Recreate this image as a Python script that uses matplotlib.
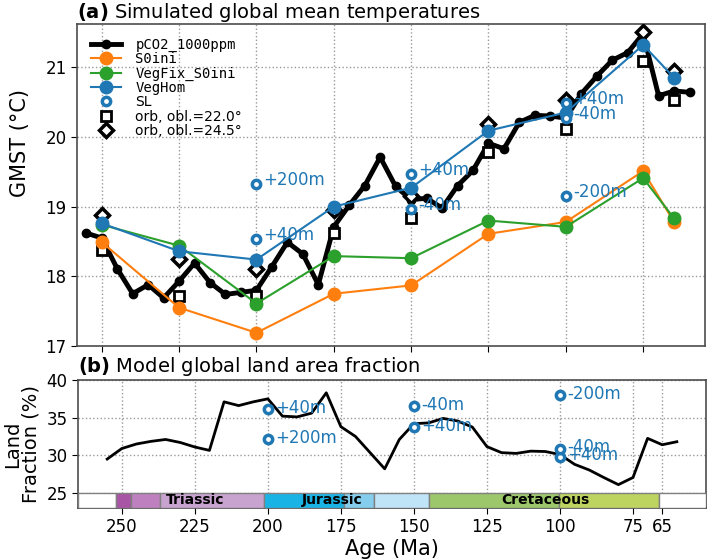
import matplotlib
matplotlib.use("Agg")
import matplotlib.pyplot as plt
from matplotlib.lines import Line2D

# reference run pCO2_1000ppm, one simulation every 5 Ma
age_ref = [255, 250, 245, 240, 235, 230, 225, 220, 215, 210,
           205, 200, 195, 190, 185, 180, 175, 170, 165, 160,
           155, 150, 145, 140, 135, 130, 125, 120, 115, 110,
           105, 100, 95, 90, 85, 80, 75, 70, 65, 60]
gmst_ref = [18.62, 18.55, 18.11, 17.75, 17.88, 17.69, 17.93, 18.19, 17.91, 17.74,
            17.77, 17.80, 18.14, 18.49, 18.32, 17.88, 18.71, 19.02, 19.30, 19.71,
            19.29, 19.10, 19.12, 18.98, 19.30, 19.52, 19.91, 19.83, 20.21, 20.31,
            20.30, 20.27, 20.62, 20.87, 21.10, 21.21, 21.48, 20.59, 20.66, 20.64]
land_ref = [29.5, 30.9, 31.5, 31.85, 32.1, 31.7, 31.1, 30.65, 37.1, 36.6,
            37.1, 37.5, 35.2, 35.1, 35.6, 38.3, 33.8, 32.5, 30.35, 28.2,
            32.1, 34.2, 34.3, 34.9, 34.55, 33.75, 31.15, 30.35, 30.25, 30.55,
            30.5, 30.1, 28.8, 28.05, 27.05, 26.1, 27.05, 32.25, 31.4, 31.8]

# sensitivity runs
age_sens = [250, 225, 200, 175, 150, 125, 100, 75, 65]
gmst_s0ini = [18.49, 17.55, 17.19, 17.75, 17.87, 18.61, 18.78, 19.51, 18.78]
gmst_vegfix = [18.74, 18.44, 17.61, 18.29, 18.26, 18.80, 18.71, 19.41, 18.83]
gmst_veghom = [18.76, 18.36, 18.24, 19.00, 19.27, 20.09, 20.35, 21.32, 20.85]
gmst_obl22 = [18.38, 17.72, 17.72, 18.62, 18.83, 19.79, 20.12, 21.09, 20.53]
gmst_obl245 = [18.88, 18.25, 18.10, 18.95, 19.15, 20.19, 20.53, 21.51, 20.95]

# sea level runs
sl_age = [200, 200, 150, 150, 100, 100, 100]
sl_name = ["+200m", "+40m", "+40m", "-40m", "+40m", "-40m", "-200m"]
sl_gmst = [19.32, 18.53, 19.47, 18.96, 20.48, 20.27, 19.15]
sl_land = [32.1, 36.1, 33.7, 36.55, 29.8, 30.9, 38.0]

# geological time scale bar
gts_start = [265, 252.0, 247.0, 237.0, 201.3, 174.1, 163.5, 145.0, 100.5, 66.0]
gts_end = [252.0, 247.0, 237.0, 201.3, 174.1, 163.5, 145.0, 100.5, 66.0, 50]
gts_color = ["white", "#a855a6", "#bf80bf", "#c8a3cf", "#1ab3e6",
             "#84cdec", "#bfe4f8", "#9cc86b", "#bdd460", "white"]
period_name = ["Triassic", "Jurassic", "Cretaceous"]
period_pos = [225, 178, 105]

blue = "#1f77b4"
orange = "#ff7f0e"
green = "#2ca02c"

plt.rcParams["font.family"] = "DejaVu Sans"
fig = plt.figure(figsize=(7.09, 5.6), dpi=100)
ax1 = fig.add_axes([0.1086, 0.3821, 0.8858, 0.575])
ax2 = fig.add_axes([0.110, 0.0929, 0.8858, 0.2285])

#---- (a) temperatures ----
ax1.plot(age_sens, gmst_obl22, "s", ms=7, mfc="white", mec="k", mew=2, zorder=3)
ax1.plot(age_sens, gmst_obl245, "D", ms=7, mfc="white", mec="k", mew=2.5, zorder=3)
ax1.plot(age_ref, gmst_ref, "o-", color="k", lw=3.5, ms=6, zorder=2)
ax1.plot(age_sens, gmst_s0ini, "o-", color=orange, lw=1.5, ms=9, zorder=4)
ax1.plot(age_sens, gmst_vegfix, "o-", color=green, lw=1.5, ms=9, zorder=4)
ax1.plot(age_sens, gmst_veghom, "o-", color=blue, lw=1.5, ms=9, zorder=4)
ax1.plot(sl_age, sl_gmst, "o", ms=6, mfc="white", mec=blue, mew=2.5, zorder=5)
for a, t, s in zip(sl_age, sl_gmst, sl_name):
    ax1.annotate(s, (a, t), xytext=(5, 3), textcoords="offset points",
                 ha="left", va="center", color=blue, fontsize=12, zorder=6)

ax1.set_xlim(258, 55)
ax1.set_ylim(17, 21.62)
ax1.set_xticks([250, 225, 200, 175, 150, 125, 100, 75])
ax1.set_xticklabels([])
ax1.set_yticks([17, 18, 19, 20, 21])
ax1.set_ylabel("GMST (\u00b0C)", fontsize=15)
ax1.yaxis.set_label_coords(-0.075, 0.63)
ax1.set_title(r"$\bf{(a)}$ Simulated global mean temperatures", loc="left",
              fontsize=14, pad=4)

handles = [
    Line2D([], [], color="k", lw=3.5, marker="o", ms=6),
    Line2D([], [], color=orange, lw=1.5, marker="o", ms=9),
    Line2D([], [], color=green, lw=1.5, marker="o", ms=9),
    Line2D([], [], color=blue, lw=1.5, marker="o", ms=9),
    Line2D([], [], ls="", marker="o", ms=6, mfc="white", mec=blue, mew=2.5),
    Line2D([], [], ls="", marker="s", ms=7, mfc="white", mec="k", mew=2),
    Line2D([], [], ls="", marker="D", ms=7, mfc="white", mec="k", mew=2.5),
]
labels = ["pCO2_1000ppm", "S0ini", "VegFix_S0ini", "VegHom", "SL",
          "orb, obl.=22.0\u00b0", "orb, obl.=24.5\u00b0"]
leg = ax1.legend(handles, labels, loc="upper left", frameon=False, fontsize=10,
                 labelspacing=0.02, handlelength=2.2, handletextpad=1.0,
                 borderaxespad=0.5, borderpad=0.5)
for t in leg.get_texts()[:4]:
    t.set_family("DejaVu Sans Mono")

#---- (b) land fraction ----
ax2.plot(age_ref, land_ref, color="k", lw=2, zorder=3)
ax2.plot(sl_age, sl_land, "o", ms=6, mfc="white", mec=blue, mew=2.5, zorder=5)
for a, f, s in zip(sl_age, sl_land, sl_name):
    ax2.annotate(s, (a, f), xytext=(5, 1), textcoords="offset points",
                 ha="left", va="center", color=blue, fontsize=12, zorder=6)

for s, e, c in zip(gts_start, gts_end, gts_color):
    ax2.barh(24, e - s, left=s, height=2, color=c, edgecolor="0.5", lw=1, zorder=4)
for n, p in zip(period_name, period_pos):
    ax2.text(p, 24, n, ha="center", va="center", fontsize=10, fontweight="bold",
             zorder=5)

ax2.set_xlim(265, 50)
ax2.set_ylim(23, 40)
ax2.set_xticks([250, 225, 200, 175, 150, 125, 100, 75, 65])
ax2.set_yticks([25, 30, 35, 40])
ax2.set_ylabel("Land\nFraction (%)", fontsize=14, linespacing=1.0)
ax2.set_xlabel("Age (Ma)", fontsize=15, labelpad=2)
ax2.set_title(r"$\bf{(b)}$ Model global land area fraction", loc="left",
              fontsize=14, pad=6)

for ax in [ax1, ax2]:
    ax.grid(True, ls=":", color="0.6", lw=1)
    ax.set_axisbelow(True)
    ax.tick_params(labelsize=12, length=4)
    for sp in ax.spines.values():
        sp.set_color("0.3")
        sp.set_linewidth(1.2)

fig.savefig("out.png", dpi=100)
